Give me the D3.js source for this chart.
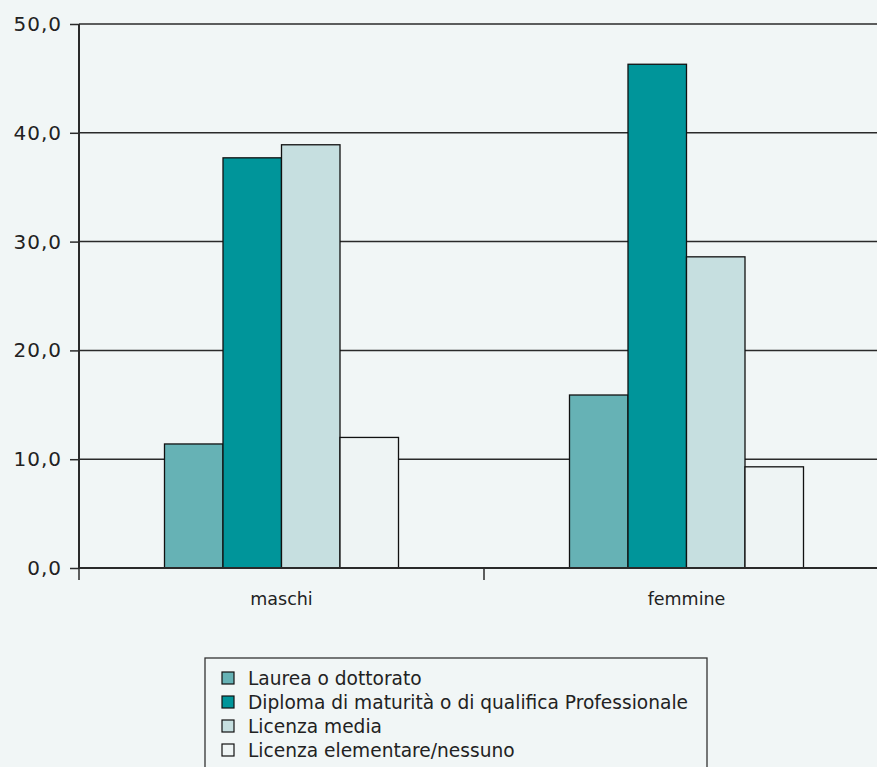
<!DOCTYPE html>
<html><head><meta charset="utf-8">
<script src="https://cdn.jsdelivr.net/npm/d3@7"></script>
<style>
html,body{margin:0;padding:0;background:#f1f6f6;}
svg{display:block;}
text{font-family:"DejaVu Sans",sans-serif;fill:#222;}
</style></head>
<body>
<script>
const categories = ["maschi", "femmine"];
const seriesNames = ["Laurea o dottorato", "Diploma di maturità o di qualifica Professionale", "Licenza media", "Licenza elementare/nessuno"];
const laurea = [11.4, 15.9];
const diploma = [37.7, 46.3];
const media = [38.9, 28.6];
const elementare = [12.0, 9.3];
const yTicks = [0, 10, 20, 30, 40, 50];
const colors = ["#66b2b5", "#00959a", "#c6dfe0", "#eef4f4"];

const seriesValues = [laurea, diploma, media, elementare];
const W = 877, H = 767;
const svg = d3.select("body").append("svg").attr("width", W).attr("height", H);

const y = d3.scaleLinear().domain([0, 50]).range([568, 24]);
const x = d3.scaleBand().domain(categories).range([79, 889]).paddingInner(0).paddingOuter(0);
const inner = d3.scaleBand().domain(d3.range(seriesNames.length)).range([0, 234]);

// gridlines
svg.append("g").selectAll("line").data(yTicks.filter(d => d > 0)).join("line")
  .attr("x1", 79).attr("x2", W).attr("y1", d => y(d)).attr("y2", d => y(d))
  .attr("stroke", "#2a2a2a").attr("stroke-width", 1.5);

// bars
const groups = svg.append("g").selectAll("g").data(categories).join("g")
  .attr("transform", c => `translate(${x(c) + x.bandwidth()/2 - 117},0)`);
groups.selectAll("rect").data((c, ci) => seriesValues.map((s, si) => ({si, v: s[ci]}))).join("rect")
  .attr("x", d => inner(d.si)).attr("width", inner.bandwidth())
  .attr("y", d => y(d.v)).attr("height", d => y(0) - y(d.v))
  .attr("fill", d => colors[d.si]).attr("stroke", "#111").attr("stroke-width", 1.3);

// y axis
const yAxis = d3.axisLeft(y).tickValues(yTicks).tickSize(9).tickPadding(8)
  .tickFormat(d => d3.format(".1f")(d).replace(".", ","));
const gy = svg.append("g").attr("transform", "translate(79,0)").call(yAxis);
gy.select(".domain").attr("stroke", "#2a2a2a").attr("stroke-width", 2).attr("d", `M0,${y(50)}V${y(0)}`);
gy.selectAll(".tick line").attr("stroke", "#2a2a2a").attr("stroke-width", 1.5);
gy.selectAll(".tick text").style("font-size", "20px").style("letter-spacing", "1px").attr("fill", "#222").style("font-family", "'DejaVu Sans',sans-serif");

// x axis
const xAxisLine = svg.append("g");
xAxisLine.append("line").attr("x1", 79).attr("x2", W).attr("y1", y(0)).attr("y2", y(0))
  .attr("stroke", "#2a2a2a").attr("stroke-width", 2);
xAxisLine.selectAll("line.t").data(categories).join("line").attr("class", "t")
  .attr("x1", c => x(c)).attr("x2", c => x(c)).attr("y1", y(0)).attr("y2", y(0) + 12)
  .attr("stroke", "#2a2a2a").attr("stroke-width", 1.5);
xAxisLine.selectAll("text").data(categories).join("text")
  .attr("x", c => x(c) + x.bandwidth()/2).attr("y", 605)
  .attr("text-anchor", "middle").style("font-size", "17.5px").text(c => c);

// legend
const lg = svg.append("g");
lg.append("rect").attr("x", 205).attr("y", 658).attr("width", 502).attr("height", 120)
  .attr("fill", "none").attr("stroke", "#333").attr("stroke-width", 1.3);
const items = lg.selectAll("g").data(seriesNames).join("g")
  .attr("transform", (d, i) => `translate(0,${678 + i * 24})`);
items.append("rect").attr("x", 222).attr("y", -6).attr("width", 12).attr("height", 12)
  .attr("fill", (d, i) => colors[i]).attr("stroke", "#111").attr("stroke-width", 1.2);
items.append("text").attr("x", 248).attr("y", 7).style("font-size", "18.6px").text(d => d);
</script>
</body></html>
